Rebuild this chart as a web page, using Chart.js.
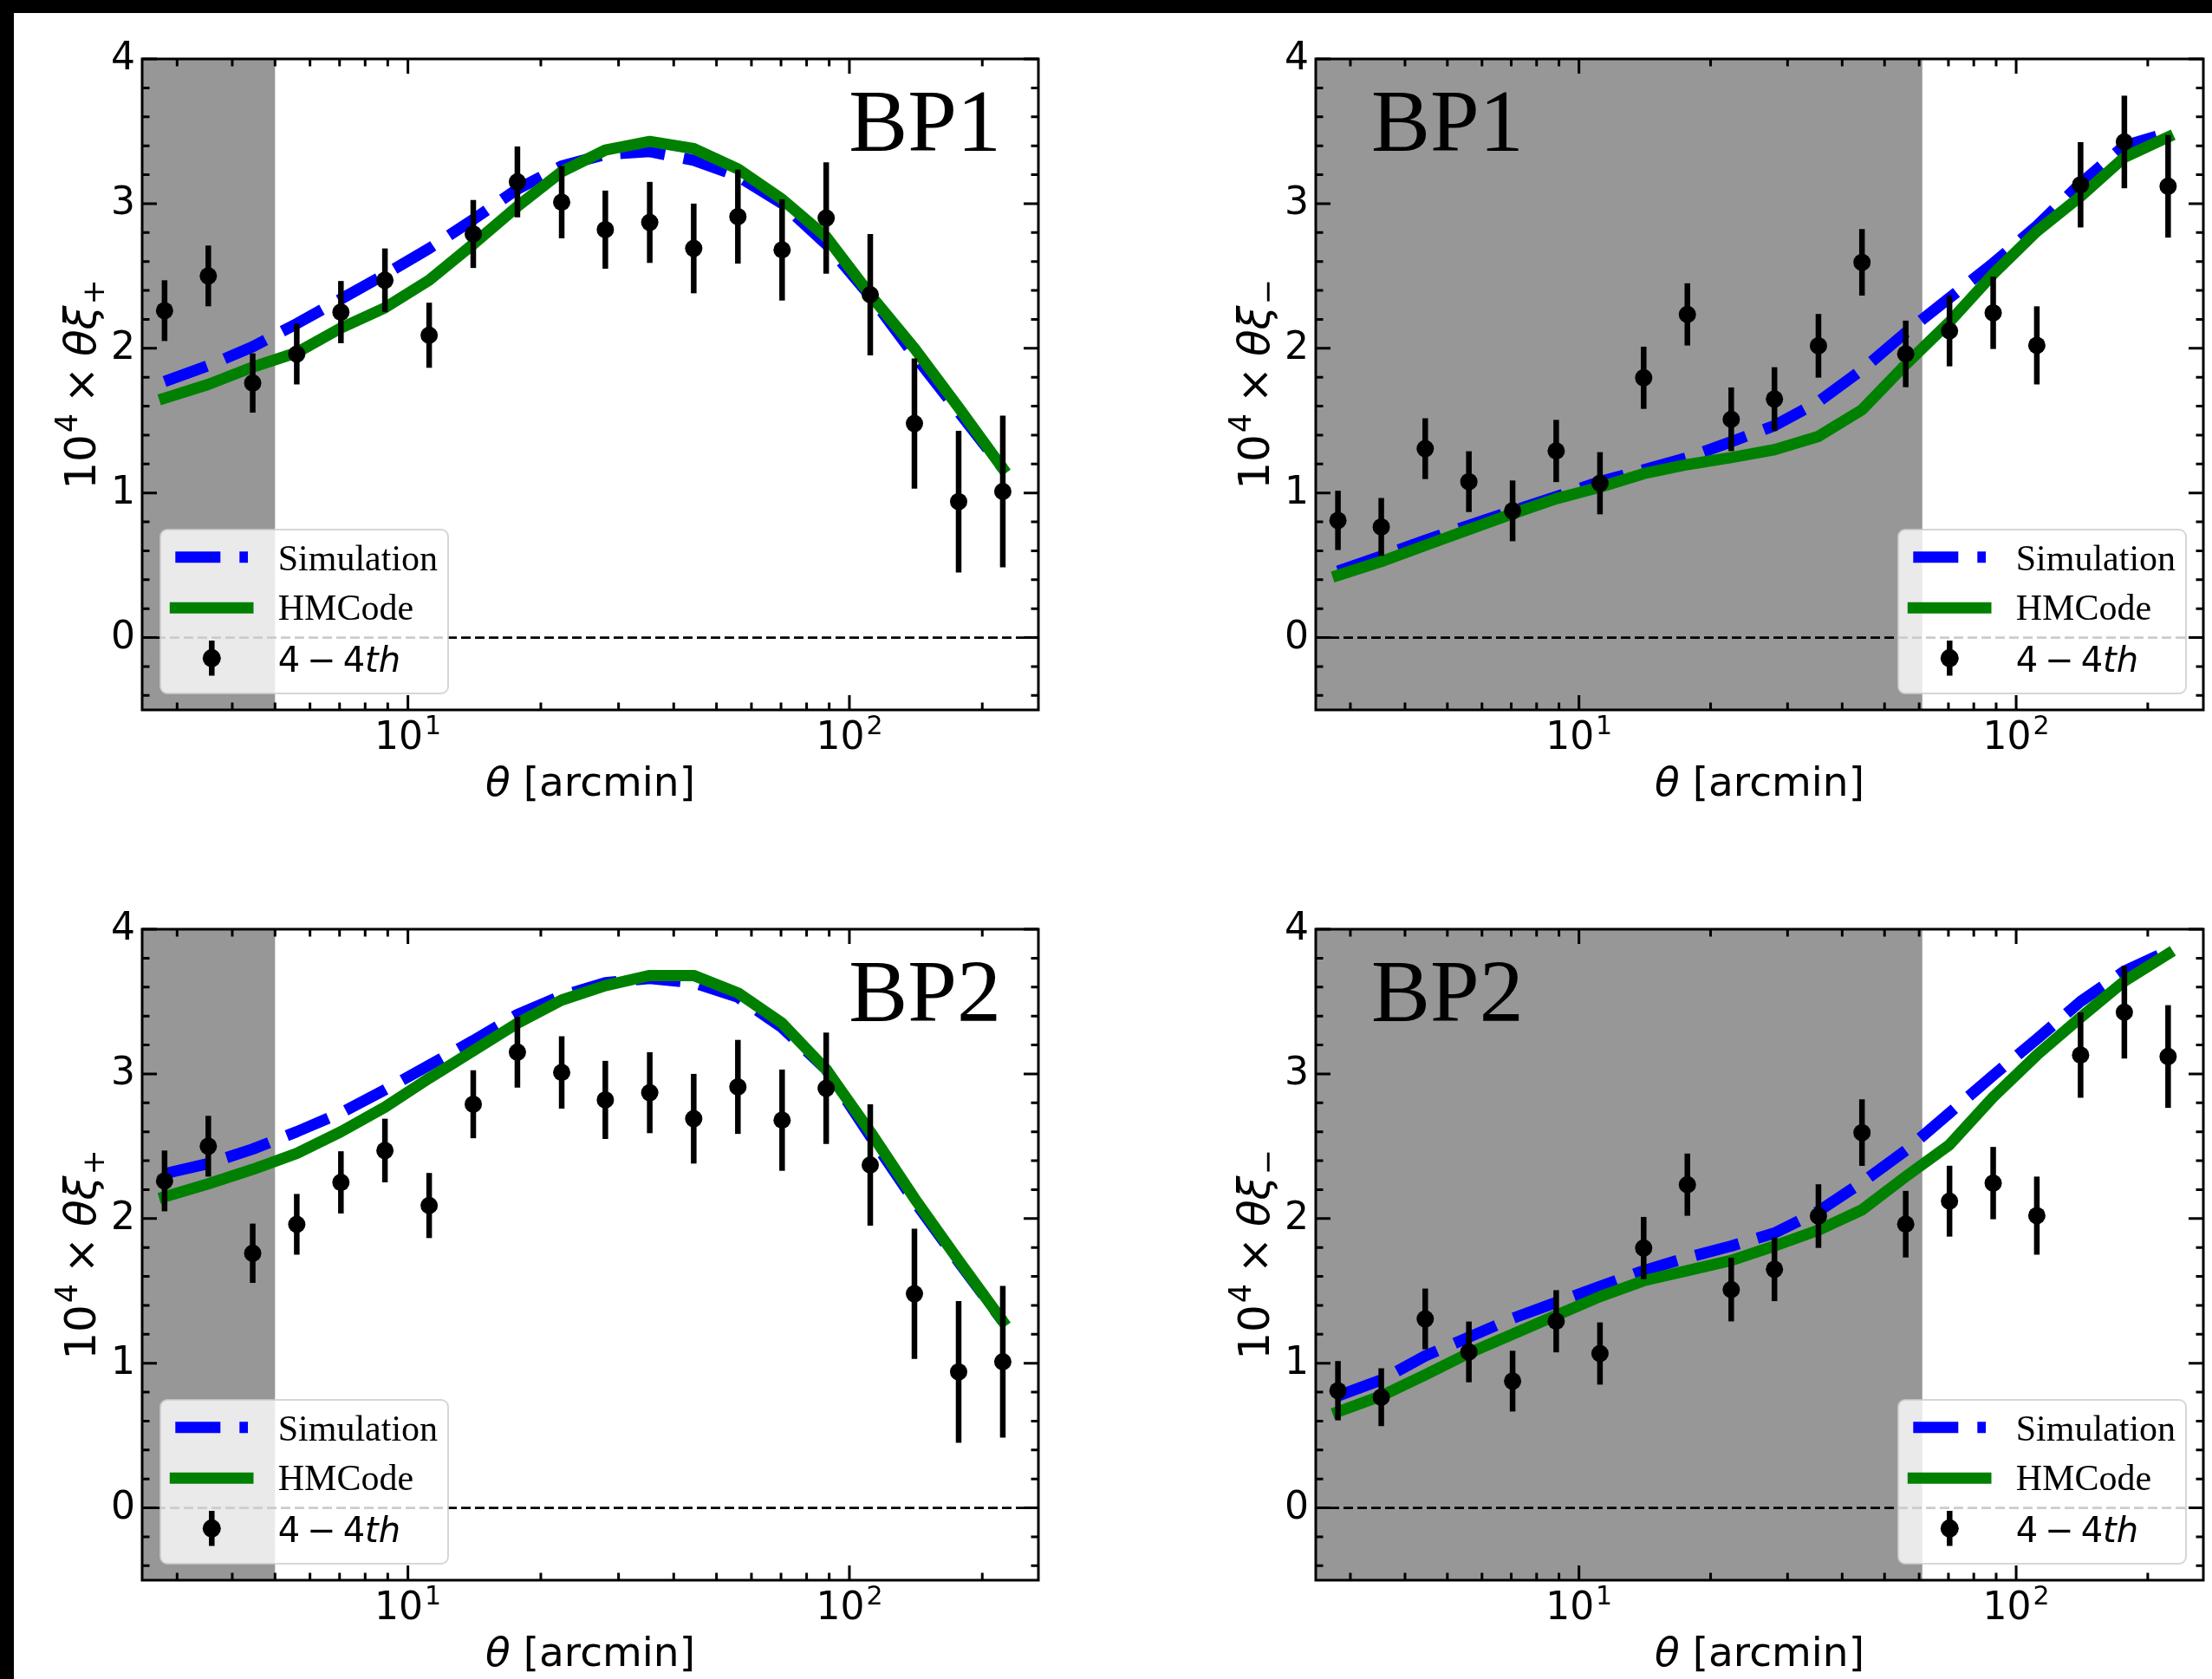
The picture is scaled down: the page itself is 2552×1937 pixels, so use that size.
<!DOCTYPE html>
<html><head><meta charset="utf-8">
<script src="https://cdn.jsdelivr.net/npm/chart.js@4.4.1/dist/chart.umd.min.js"></script>
<style>
html,body{margin:0;padding:0;background:#fff;width:2552px;height:1937px;overflow:hidden;position:relative}
canvas{position:absolute}
.bar{position:absolute;background:#000}
</style></head><body>
<canvas id="c0" width="1276" height="968" style="left:0;top:0"></canvas>
<canvas id="c1" width="1276" height="968" style="left:1276px;top:0"></canvas>
<canvas id="c2" width="1276" height="969" style="left:0;top:968px"></canvas>
<canvas id="c3" width="1276" height="969" style="left:1276px;top:968px"></canvas>
<div class="bar" style="left:0;top:0;width:2552px;height:15px"></div>
<div class="bar" style="left:0;top:0;width:16px;height:1937px"></div>
<script>
// ---------------- data ----------------
const theta = [2.81, 3.53, 4.45, 5.60, 7.05, 8.87, 11.17, 14.06, 17.7, 22.3, 28.0, 35.3, 44.4, 55.9, 70.4, 88.6, 111.5, 140.4, 176.8, 222.6];

const xiPlusData = [2.26, 2.50, 1.76, 1.96, 2.25, 2.47, 2.09, 2.79, 3.15, 3.01, 2.82, 2.87, 2.69, 2.91, 2.68, 2.90, 2.37, 1.48, 0.94, 1.01];
const xiPlusErr  = [0.21, 0.21, 0.205, 0.21, 0.215, 0.22, 0.225, 0.235, 0.245, 0.25, 0.27, 0.28, 0.31, 0.325, 0.35, 0.385, 0.42, 0.45, 0.49, 0.525];
const xiMinusData = [0.81, 0.765, 1.306, 1.078, 0.876, 1.29, 1.067, 1.796, 2.234, 1.509, 1.649, 2.017, 2.594, 1.961, 2.12, 2.245, 2.02, 3.13, 3.426, 3.12];
const xiMinusErr  = [0.205, 0.2, 0.21, 0.21, 0.21, 0.215, 0.215, 0.215, 0.215, 0.22, 0.22, 0.22, 0.23, 0.23, 0.245, 0.25, 0.27, 0.295, 0.32, 0.355];

const simBP1Plus = [1.77, 1.88, 2.01, 2.17, 2.34, 2.51, 2.69, 2.89, 3.10, 3.26, 3.34, 3.36, 3.30, 3.19, 3.00, 2.72, 2.36, 1.95, 1.56, 1.17];
const hmBP1Plus  = [1.655, 1.75, 1.87, 1.97, 2.14, 2.28, 2.47, 2.72, 2.98, 3.22, 3.37, 3.43, 3.38, 3.24, 3.03, 2.77, 2.37, 2.00, 1.59, 1.17];
const simBP1Minus = [0.46, 0.563, 0.673, 0.776, 0.876, 0.975, 1.078, 1.159, 1.244, 1.354, 1.465, 1.63, 1.851, 2.109, 2.348, 2.587, 2.845, 3.139, 3.40, 3.49];
const hmBP1Minus  = [0.43, 0.526, 0.637, 0.747, 0.857, 0.96, 1.04, 1.133, 1.196, 1.244, 1.299, 1.391, 1.575, 1.888, 2.182, 2.513, 2.808, 3.05, 3.32, 3.46];
const simBP2Plus = [2.31, 2.38, 2.48, 2.60, 2.73, 2.89, 3.06, 3.23, 3.41, 3.54, 3.63, 3.66, 3.63, 3.53, 3.32, 3.03, 2.57, 2.12, 1.70, 1.29];
const hmBP2Plus  = [2.15, 2.24, 2.34, 2.45, 2.60, 2.77, 2.97, 3.16, 3.35, 3.51, 3.61, 3.68, 3.68, 3.56, 3.35, 3.03, 2.60, 2.14, 1.71, 1.29];
const simBP2Minus = [0.774, 0.885, 1.05, 1.18, 1.31, 1.42, 1.53, 1.64, 1.73, 1.81, 1.90, 2.05, 2.25, 2.47, 2.73, 2.99, 3.24, 3.50, 3.71, 3.85];
const hmBP2Minus  = [0.664, 0.774, 0.92, 1.07, 1.20, 1.33, 1.46, 1.57, 1.64, 1.71, 1.81, 1.92, 2.06, 2.29, 2.51, 2.84, 3.13, 3.39, 3.64, 3.83];

const yTickValues = [0, 1, 2, 3, 4];
const yTickLabels = ['0', '1', '2', '3', '4'];
const xTickValues = [10, 100];
const xTickBase = ['10', '10'];
const xTickExp = ['1', '2'];
const xMinorTicks = [3, 4, 5, 6, 7, 8, 9, 20, 30, 40, 50, 60, 70, 80, 90, 200];
const SHADE_PLUS = 5, SHADE_MINUS = 61;
const X_MIN = 2.5, X_MAX = 268, Y_MIN = -0.5, Y_MAX = 4;

// ---------------- drawing helpers ----------------
const SANS = 'DejaVu Sans', SERIF = 'Liberation Serif';

function richWidth(ctx, pieces) {
  let w = 0;
  for (const p of pieces) {
    if (p.gap) { w += p.gap; continue; }
    ctx.font = p.font; w += ctx.measureText(p.t).width;
  }
  return w;
}
function drawRich(ctx, pieces, x, y, align) {
  let w = richWidth(ctx, pieces);
  let cx = align === 'center' ? x - w / 2 : (align === 'right' ? x - w : x);
  ctx.textAlign = 'left'; ctx.textBaseline = 'alphabetic';
  for (const p of pieces) {
    if (p.gap) { cx += p.gap; continue; }
    ctx.font = p.font;
    ctx.fillText(p.t, cx, y + (p.dy || 0));
    cx += ctx.measureText(p.t).width;
  }
}

function legend(ctx, ca, onRight) {
  const w = 332, h = 189;
  const bx = onRight ? ca.right - 20 - w : ca.left + 21;
  const by = ca.bottom - 19 - h;
  ctx.save();
  ctx.beginPath();
  ctx.roundRect(bx, by, w, h, 8);
  ctx.fillStyle = 'rgba(255,255,255,0.8)';
  ctx.fill();
  ctx.lineWidth = 2; ctx.strokeStyle = 'rgba(204,204,204,0.8)';
  ctx.stroke();
  // Simulation handle
  ctx.lineWidth = 13;
  ctx.strokeStyle = '#0000ff'; ctx.lineCap = 'butt'; ctx.setLineDash([52, 22]);
  ctx.beginPath(); ctx.moveTo(bx + 17.3, by + 31.8); ctx.lineTo(bx + 101, by + 31.8); ctx.stroke();
  // HMCode handle
  ctx.setLineDash([]); ctx.lineCap = 'square'; ctx.strokeStyle = '#008000';
  ctx.beginPath(); ctx.moveTo(bx + 17.3, by + 90.3); ctx.lineTo(bx + 101, by + 90.3); ctx.stroke();
  // data handle
  ctx.lineCap = 'butt'; ctx.strokeStyle = '#000'; ctx.lineWidth = 6.5;
  ctx.beginPath(); ctx.moveTo(bx + 59.3, by + 128); ctx.lineTo(bx + 59.3, by + 168.5); ctx.stroke();
  ctx.fillStyle = '#000';
  ctx.beginPath(); ctx.arc(bx + 59.3, by + 148.3, 10.5, 0, Math.PI * 2); ctx.fill();
  // texts
  ctx.fillStyle = '#000';
  ctx.font = '42px "' + SERIF + '"'; ctx.textAlign = 'left'; ctx.textBaseline = 'alphabetic';
  ctx.fillText('Simulation', bx + 135.7, by + 46.6);
  ctx.fillText('HMCode', bx + 135.7, by + 104.3);
  const f = '40px "' + SANS + '"', fi = 'italic 40px "' + SANS + '"';
  drawRich(ctx, [{t: '4', font: f}, {gap: 8}, {t: '\u2212', font: f}, {gap: 8}, {t: '4', font: f}, {t: 'th', font: fi}], bx + 135.7, by + 163.6, 'left');
  ctx.restore();
}

const deco = {
  id: 'deco',
  beforeDatasetsDraw(chart) {
    const o = chart.options.plugins.deco;
    const ctx = chart.ctx, ca = chart.chartArea;
    const xs = chart.scales.x, ys = chart.scales.y;
    ctx.save();
    const sx = xs.getPixelForValue(o.shade);
    ctx.fillStyle = 'rgb(151,151,151)';
    ctx.fillRect(ca.left, ca.top, sx - ca.left, ca.bottom - ca.top);
    const y0 = ys.getPixelForValue(0);
    ctx.strokeStyle = '#000'; ctx.lineWidth = 2.7; ctx.setLineDash([11, 5]);
    ctx.beginPath(); ctx.moveTo(ca.left, y0); ctx.lineTo(ca.right, y0); ctx.stroke();
    ctx.restore();
  },
  beforeDatasetDraw(chart, args) {
    if (args.index !== 0) return;
    const o = chart.options.plugins.deco;
    const ctx = chart.ctx;
    const xs = chart.scales.x, ys = chart.scales.y;
    ctx.save();
    ctx.strokeStyle = '#000'; ctx.lineWidth = 6.5; ctx.lineCap = 'butt';
    for (let i = 0; i < theta.length; i++) {
      const px = xs.getPixelForValue(theta[i]);
      ctx.beginPath();
      ctx.moveTo(px, ys.getPixelForValue(o.vals[i] - o.err[i]));
      ctx.lineTo(px, ys.getPixelForValue(o.vals[i] + o.err[i]));
      ctx.stroke();
    }
    ctx.restore();
  },
  afterDraw(chart) {
    const o = chart.options.plugins.deco;
    const ctx = chart.ctx, ca = chart.chartArea;
    const xs = chart.scales.x, ys = chart.scales.y;
    ctx.save();
    ctx.strokeStyle = '#000'; ctx.lineWidth = 3; ctx.setLineDash([]);
    const MAJ = 17, MIN = 8.5;
    const tickX = (v, L) => { const p = xs.getPixelForValue(v); ctx.beginPath(); ctx.moveTo(p, ca.bottom); ctx.lineTo(p, ca.bottom - L); ctx.moveTo(p, ca.top); ctx.lineTo(p, ca.top + L); ctx.stroke(); };
    const tickY = (v, L) => { const p = ys.getPixelForValue(v); ctx.beginPath(); ctx.moveTo(ca.left, p); ctx.lineTo(ca.left + L, p); ctx.moveTo(ca.right, p); ctx.lineTo(ca.right - L, p); ctx.stroke(); };
    xTickValues.forEach(v => tickX(v, MAJ));
    xMinorTicks.forEach(v => tickX(v, MIN));
    yTickValues.forEach(v => tickY(v, MAJ));
    for (let k = -2; k <= 19; k++) { if (k % 5 !== 0) tickY(k * 0.2, MIN); }
    ctx.lineWidth = 3;
    ctx.strokeRect(ca.left, ca.top, ca.right - ca.left, ca.bottom - ca.top);
    // tick labels
    ctx.fillStyle = '#000';
    ctx.font = '44px "' + SANS + '"'; ctx.textAlign = 'right'; ctx.textBaseline = 'middle';
    yTickValues.forEach((v, i) => ctx.fillText(yTickLabels[i], ca.left - 8, ys.getPixelForValue(v) + 1));
    const f = '44px "' + SANS + '"', fs = '30px "' + SANS + '"';
    xTickValues.forEach((v, i) => {
      drawRich(ctx, [{t: xTickBase[i], font: f}, {gap: 2}, {t: xTickExp[i], font: fs, dy: -17}], xs.getPixelForValue(v), ca.bottom + 45, 'center');
    });
    // axis titles
    const F = '47px "' + SANS + '"', FI = 'italic 47px "' + SANS + '"';
    drawRich(ctx, [{t: '\u03b8', font: FI}, {t: ' [arcmin]', font: F}], (ca.left + ca.right) / 2, ca.bottom + 99, 'center');
    const G = '50px "' + SANS + '"', GI = 'italic 50px "' + SANS + '"', GS = '35px "' + SANS + '"';
    ctx.save();
    ctx.translate(ca.left - 54, (ca.top + ca.bottom) / 2);
    ctx.rotate(-Math.PI / 2);
    drawRich(ctx, [{t: '10', font: G}, {gap: 2}, {t: '4', font: GS, dy: -21}, {gap: 12}, {t: '\u00d7', font: G}, {gap: 12}, {t: '\u03b8\u03be', font: GI}, {gap: 1}, {t: o.sub, font: GS, dy: 10}], 0, 0, 'center');
    ctx.restore();
    // panel label
    ctx.font = '102px "' + SERIF + '"'; ctx.textBaseline = 'alphabetic';
    if (o.labelLeft) { ctx.textAlign = 'left'; ctx.fillText(o.label, ca.left + 64, ca.top + 106); }
    else { ctx.textAlign = 'right'; ctx.fillText(o.label, ca.right - 43, ca.top + 106); }
    ctx.restore();
    legend(ctx, ca, o.legendRight);
  }
};

const panels = [
  {id: 'c0', area: [164, 68, 1198, 819], vals: xiPlusData, err: xiPlusErr, sim: simBP1Plus, hm: hmBP1Plus, shade: SHADE_PLUS, label: 'BP1', labelLeft: false, sub: '+', legendRight: false},
  {id: 'c1', area: [242, 68, 1272, 819], vals: xiMinusData, err: xiMinusErr, sim: simBP1Minus, hm: hmBP1Minus, shade: SHADE_MINUS, label: 'BP1', labelLeft: true, sub: '\u2212', legendRight: true},
  {id: 'c2', area: [164, 104, 1198, 855], vals: xiPlusData, err: xiPlusErr, sim: simBP2Plus, hm: hmBP2Plus, shade: SHADE_PLUS, label: 'BP2', labelLeft: false, sub: '+', legendRight: false},
  {id: 'c3', area: [242, 104, 1272, 855], vals: xiMinusData, err: xiMinusErr, sim: simBP2Minus, hm: hmBP2Minus, shade: SHADE_MINUS, label: 'BP2', labelLeft: true, sub: '\u2212', legendRight: true}
];

panels.forEach(p => {
  const cv = document.getElementById(p.id);
  const W = cv.width, H = cv.height;
  new Chart(cv.getContext('2d'), {
    type: 'scatter',
    data: {
      datasets: [
        {label: '4 \u2212 4th', data: theta.map((x, i) => ({x: x, y: p.vals[i]})), showLine: false,
         pointRadius: 10, pointHoverRadius: 10, pointBackgroundColor: '#000', pointBorderWidth: 0, pointBorderColor: '#000'},
        {label: 'HMCode', type: 'line', data: theta.map((x, i) => ({x: x, y: p.hm[i]})), borderColor: '#008000',
         borderWidth: 13, pointRadius: 0, fill: false, tension: 0, borderCapStyle: 'square', borderJoinStyle: 'round'},
        {label: 'Simulation', type: 'line', data: theta.map((x, i) => ({x: x, y: p.sim[i]})), borderColor: '#0000ff',
         borderWidth: 13, borderDash: [52, 22], pointRadius: 0, fill: false, tension: 0, borderCapStyle: 'butt', borderJoinStyle: 'round'}
      ]
    },
    options: {
      responsive: false, animation: false, devicePixelRatio: 1, events: [],
      layout: {padding: {left: p.area[0], top: p.area[1], right: W - p.area[2], bottom: H - p.area[3]}},
      plugins: {legend: {display: false}, tooltip: {enabled: false}, deco: p},
      scales: {
        x: {type: 'logarithmic', min: X_MIN, max: X_MAX, display: false},
        y: {type: 'linear', min: Y_MIN, max: Y_MAX, display: false}
      }
    },
    plugins: [deco]
  });
});
</script>
</body></html>
